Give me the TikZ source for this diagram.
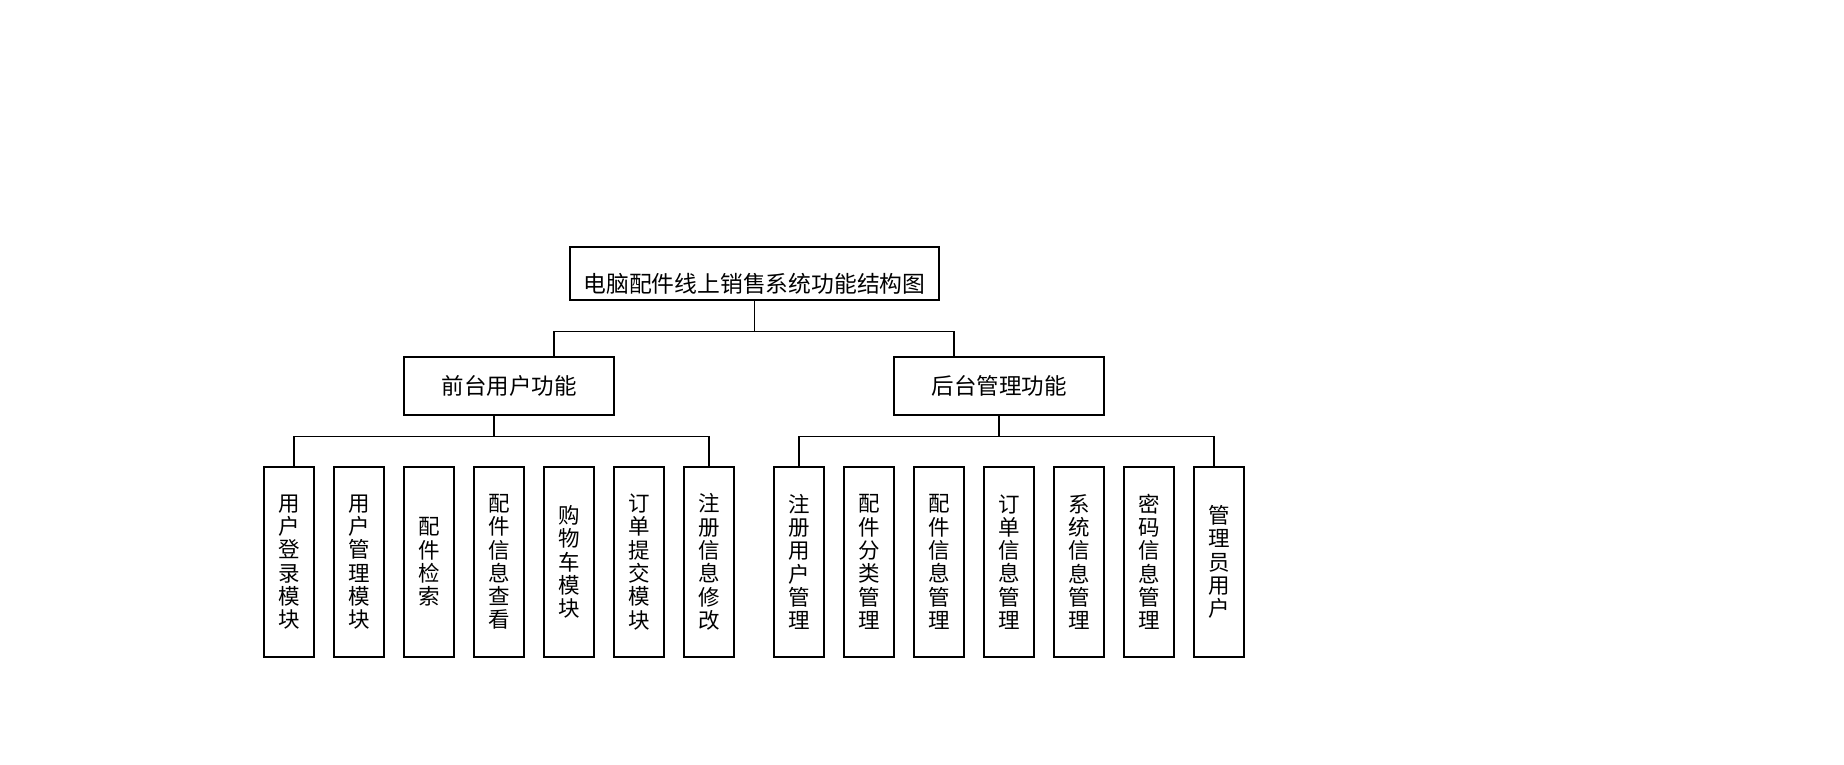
\documentclass[tikz,border=0pt]{standalone}
\usepackage{fontspec}
\setmainfont{Noto Sans CJK SC}
\begin{document}
\begin{tikzpicture}[x=1pt,y=-1pt,
  box/.style={draw=black,line width=1.2pt,fill=white,inner sep=0pt},
  midbox/.style={box,minimum width=210pt,minimum height=58pt,font=\fontsize{22.5pt}{24pt}\selectfont},
  leaf/.style={box,minimum width=50pt,minimum height=190pt,align=center,font=\fontsize{21.5pt}{23.3pt}\selectfont},
  conn/.style={line width=1.2pt,draw=black}]
\useasboundingbox (0,0) rectangle (1844,765);
\node[box,minimum width=369pt,minimum height=53pt,
  label={[font=\fontsize{22.8pt}{25pt}\selectfont,yshift=-10pt]center:电脑配件线上销售系统功能结构图}] (top) at (754.5,273.5) {};
\node[midbox] (front) at (509,386) {前台用户功能};
\node[midbox] (back) at (999,386) {后台管理功能};
\node[leaf] (f1) at (289,562) {用\\户\\登\\录\\模\\块};
\node[leaf] (f2) at (359,562) {用\\户\\管\\理\\模\\块};
\node[leaf] (f3) at (429,562) {配\\件\\检\\索};
\node[leaf] (f4) at (499,562) {配\\件\\信\\息\\查\\看};
\node[leaf] (f5) at (569,562) {购\\物\\车\\模\\块};
\node[leaf] (f6) at (639,562) {订\\单\\提\\交\\模\\块};
\node[leaf] (f7) at (709,562) {注\\册\\信\\息\\修\\改};
\node[leaf] (b1) at (799,562) {注\\册\\用\\户\\管\\理};
\node[leaf] (b2) at (869,562) {配\\件\\分\\类\\管\\理};
\node[leaf] (b3) at (939,562) {配\\件\\信\\息\\管\\理};
\node[leaf] (b4) at (1009,562) {订\\单\\信\\息\\管\\理};
\node[leaf] (b5) at (1079,562) {系\\统\\信\\息\\管\\理};
\node[leaf] (b6) at (1149,562) {密\\码\\信\\息\\管\\理};
\node[leaf] (b7) at (1219,562) {管\\理\\员\\用\\户};
% attachment points
\coordinate (fin) at ([xshift=45pt]front.north);
\coordinate (bin) at ([xshift=-45pt]back.north);
\coordinate (fout) at ([xshift=-15pt]front.south);
\coordinate (f1in) at ([xshift=5pt]f1.north);
\coordinate (b7in) at ([xshift=-5pt]b7.north);
% level 1
\draw[conn] (top.south) -- ++(0,31) coordinate (jt);
\draw[conn] (fin) |- (jt -| bin) -- (bin);
% front group
\draw[conn] (fout) -- ++(0,21) coordinate (jf);
\draw[conn] (f1in) |- (jf -| f7.north) -- (f7.north);
% back group
\draw[conn] (back.south) -- ++(0,21) coordinate (jb);
\draw[conn] (b1.north) |- (jb -| b7in) -- (b7in);
\end{tikzpicture}
\end{document}
